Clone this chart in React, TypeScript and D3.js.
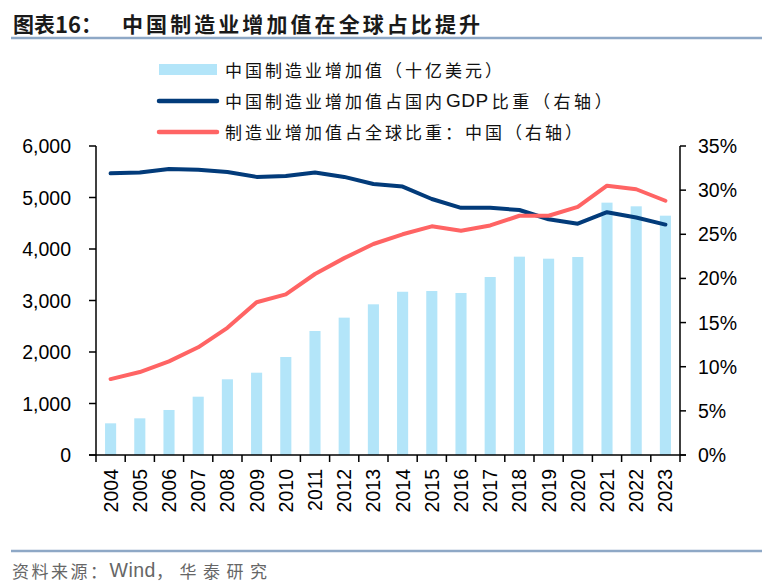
import React from "react";
import * as d3 from "d3";

const years = ["2004","2005","2006","2007","2008","2009","2010","2011","2012","2013","2014","2015","2016","2017","2018","2019","2020","2021","2022","2023"];
const valueAdded = [615, 712, 874, 1132, 1470, 1598, 1903, 2408, 2667, 2926, 3170, 3184, 3146, 3456, 3851, 3812, 3845, 4900, 4829, 4647];
const gdpShare = [31.9, 32.0, 32.4, 32.3, 32.05, 31.5, 31.6, 32.0, 31.5, 30.7, 30.4, 29.0, 28.0, 28.0, 27.75, 26.7, 26.2, 27.5, 26.9, 26.1];
const globalShare = [8.6, 9.4, 10.6, 12.2, 14.4, 17.3, 18.2, 20.5, 22.3, 23.9, 25.0, 25.9, 25.4, 26.0, 27.1, 27.1, 28.1, 30.5, 30.1, 28.8];
const leftTicks = [0, 1000, 2000, 3000, 4000, 5000, 6000];
const rightTicks = [0, 5, 10, 15, 20, 25, 30, 35];

const titlePrefix = "图表16：";
const titleMain = "中国制造业增加值在全球占比提升";
// legend labels split into [cjk, latin, cjk] segments
const legendLabels: string[][] = [
  ["中国制造业增加值（十亿美元）", "", ""],
  ["中国制造业增加值占国内", "GDP", "比重（右轴）"],
  ["制造业增加值占全球比重：中国（右轴）", "", ""],
];
const sourceParts = ["资料来源：", "Wind", "，华泰研究"];

const W = 772, H = 584;
const left = 96, right = 680, top = 146, bottom = 455;
const BAR = "#B3E5F9", NAVY = "#023B7A", RED = "#FF6464", RULE = "#8EA8C6";
const cjk = "'Noto Sans CJK SC', 'Noto Sans', sans-serif";
const num = "'Liberation Sans', Arial, sans-serif";

export default function App() {
  const x = d3.scaleBand<string>().domain(years).range([left, right]).paddingInner(0.62).paddingOuter(0.31);
  const xb = d3.scaleBand<string>().domain(years).range([left, right]);
  const yL = d3.scaleLinear().domain([0, 6000]).range([bottom, top]);
  const yR = d3.scaleLinear().domain([0, 35]).range([bottom, top]);
  const cx = (y: string) => (xb(y) as number) + xb.bandwidth() / 2;
  const lineGen = d3.line<number>().x((_, i) => cx(years[i])).y((d) => yR(d));
  const fmt = d3.format(",");
  const boundaries = years.map((y) => xb(y) as number).concat([right]);

  return (
    <svg width={W} height={H} style={{ position: "absolute", left: 0, top: 0, background: "#fff" }}>
      <text x={13} y={23} fontFamily={cjk} fontWeight="bold" fontSize={21} fill="#1a1a1a" dominantBaseline="central">
        <tspan>图表</tspan><tspan fontSize={22}>16</tspan><tspan>：</tspan>
      </text>
      <text x={122} y={23} fontFamily={cjk} fontWeight="bold" fontSize={21} fill="#1a1a1a" dominantBaseline="central" textLength={358} lengthAdjust="spacing">{titleMain}</text>
      <line x1={11} x2={762} y1={38} y2={38} stroke={RULE} strokeWidth={2.5} />

      {/* legend */}
      <rect x={159} y={64} width={58} height={11} fill={BAR} />
      <line x1={159} x2={217} y1={101} y2={101} stroke={NAVY} strokeWidth={4.5} strokeLinecap="round" />
      <line x1={159} x2={217} y1={132} y2={132} stroke={RED} strokeWidth={4.5} strokeLinecap="round" />
      {legendLabels.map((parts, i) => (
        <text key={i} x={225} y={69 + i * 31} fontFamily={cjk} fontSize={17} fill="#111" dominantBaseline="central">
          <tspan letterSpacing={3}>{parts[0]}</tspan>
          {parts[1] && <tspan fontFamily={num} fontSize={19} letterSpacing={0.5} dx={1}>{parts[1]}</tspan>}
          {parts[2] && <tspan letterSpacing={3.6} dx={3}>{parts[2]}</tspan>}
        </text>
      ))}

      {/* bars */}
      {years.map((y, i) => (
        <rect key={y} x={x(y)} y={yL(valueAdded[i])} width={x.bandwidth()} height={bottom - yL(valueAdded[i])} fill={BAR} />
      ))}

      {/* lines */}
      <path d={lineGen(gdpShare) || ""} fill="none" stroke={NAVY} strokeWidth={4} strokeLinejoin="round" strokeLinecap="round" />
      <path d={lineGen(globalShare) || ""} fill="none" stroke={RED} strokeWidth={4} strokeLinejoin="round" strokeLinecap="round" />

      {/* left axis */}
      <line x1={left} x2={left} y1={top} y2={bottom} stroke="#000" strokeWidth={1.5} />
      {leftTicks.map((t) => (
        <g key={t}>
          <line x1={left - 7} x2={left} y1={yL(t)} y2={yL(t)} stroke="#000" strokeWidth={1.5} />
          <text x={71} y={yL(t)} textAnchor="end" dominantBaseline="central" fontFamily={num} fontSize={19.5} fill="#000">{fmt(t)}</text>
        </g>
      ))}

      {/* right axis */}
      <line x1={right} x2={right} y1={top} y2={bottom} stroke="#000" strokeWidth={1.5} />
      {rightTicks.map((t) => (
        <g key={t}>
          <line x1={right} x2={right + 6} y1={yR(t)} y2={yR(t)} stroke="#000" strokeWidth={1.5} />
          <text x={698} y={yR(t)} textAnchor="start" dominantBaseline="central" fontFamily={num} fontSize={19.5} fill="#000">{t + "%"}</text>
        </g>
      ))}

      {/* x axis */}
      <line x1={left - 7} x2={right + 6} y1={bottom} y2={bottom} stroke="#000" strokeWidth={1.5} />
      {boundaries.map((b, i) => (
        <line key={i} x1={b} x2={b} y1={bottom} y2={bottom + 7} stroke="#000" strokeWidth={1.5} />
      ))}
      {years.map((y) => (
        <text key={y} transform={`translate(${cx(y)},${469}) rotate(-90)`} textAnchor="end" dominantBaseline="central"
          fontFamily={num} fontSize={19.5} fill="#000">{y}</text>
      ))}

      {/* footer */}
      <line x1={11} x2={762} y1={551} y2={551} stroke={RULE} strokeWidth={2.5} />
      <text x={12} y={570} fontFamily={cjk} fontSize={17} fill="#666" dominantBaseline="central">
        <tspan letterSpacing={2.5}>{sourceParts[0]}</tspan>
        <tspan fontFamily={num} fontSize={19.5} letterSpacing={0.5}>{sourceParts[1]}</tspan>
        <tspan letterSpacing={6.5}>{sourceParts[2]}</tspan>
      </text>
    </svg>
  );
}
